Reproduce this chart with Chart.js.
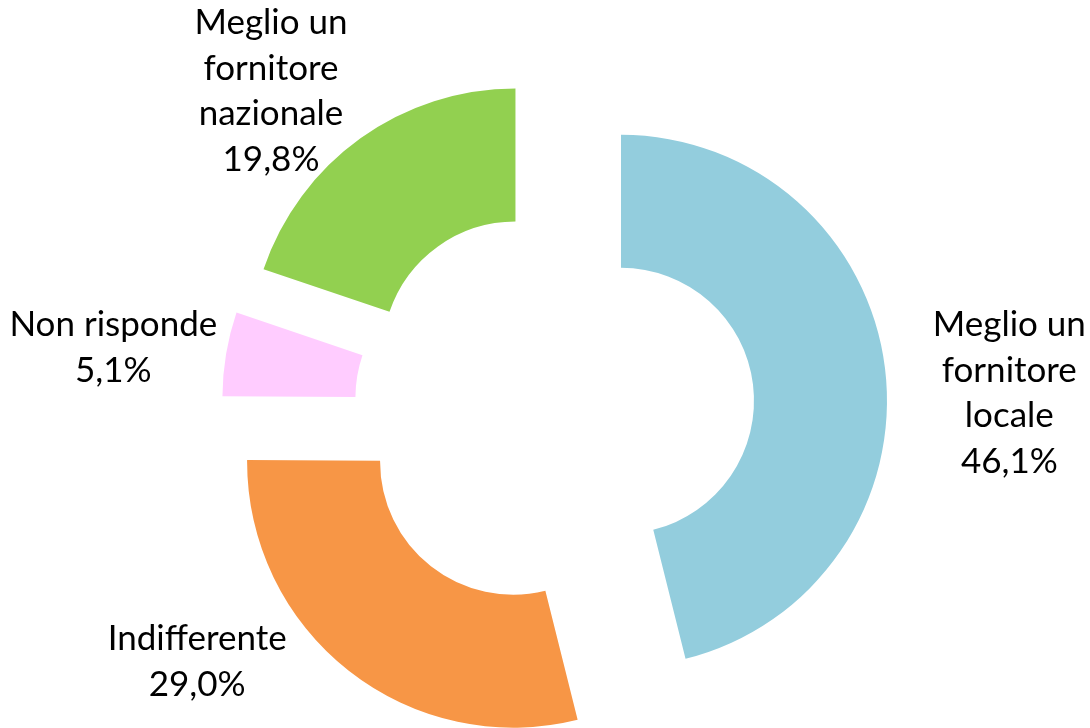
<!DOCTYPE html>
<html>
<head>
<meta charset="utf-8">
<script src="https://cdn.jsdelivr.net/npm/chart.js@4.4.0/dist/chart.umd.min.js"></script>
<style>
  html, body { margin: 0; padding: 0; background: #ffffff; }
  #wrap { width: 1090px; height: 728px; }
</style>
</head>
<body>
<div id="wrap"><canvas id="donut" width="1090" height="728"></canvas></div>
<script>
// dati del grafico
const categorie = [
    ['Meglio un', 'fornitore', 'locale'],
    ['Indifferente'],
    ['Non risponde'],
    ['Meglio un', 'fornitore', 'nazionale']
];
const percentuali = [46.1, 29.0, 5.1, 19.8];
const colori = ['#93cddd', '#f79646', '#ffccff', '#92d050'];

const esplodi = 67;

// disegna ogni spicchio spostato verso l'esterno
const esplosoPlugin = {
    id: 'esploso',
    beforeDatasetsDraw(chart) {
        const ctx = chart.ctx;
        const meta = chart.getDatasetMeta(0);
        meta.data.forEach(arc => {
            const mid = (arc.startAngle + arc.endAngle) / 2;
            ctx.save();
            ctx.translate(Math.cos(mid) * esplodi, Math.sin(mid) * esplodi);
            arc.draw(ctx);
            ctx.restore();
        });
        return false;
    }
};

// etichette esterne (spostate a mano come nell'originale)
const spostamenti = [[35, 36], [-96, -80], [-24, 9], [-37, 26]];
const etichettePlugin = {
    id: 'etichette',
    afterDraw(chart) {
        const ctx = chart.ctx;
        const meta = chart.getDatasetMeta(0);
        ctx.save();
        ctx.font = '35px Lato';
        ctx.fillStyle = '#000000';
        ctx.textAlign = 'center';
        ctx.textBaseline = 'middle';
        const riga = 45.5;
        meta.data.forEach((arc, i) => {
            const mid = (arc.startAngle + arc.endAngle) / 2;
            const r = esplodi + arc.outerRadius + 90;
            const x = arc.x + Math.cos(mid) * r + spostamenti[i][0];
            const y = arc.y + Math.sin(mid) * r + spostamenti[i][1];
            const righe = categorie[i].concat([percentuali[i].toFixed(1).replace('.', ',') + '%']);
            const y0 = y - (righe.length - 1) * riga / 2;
            righe.forEach((t, k) => ctx.fillText(t, x, y0 + k * riga));
        });
        ctx.restore();
    }
};

new Chart(document.getElementById('donut').getContext('2d'), {
    type: 'doughnut',
    data: {
        labels: categorie.map(c => c.join(' ')),
        datasets: [{
            data: percentuali,
            backgroundColor: colori,
            borderWidth: 0
        }]
    },
    options: {
        responsive: false,
        animation: false,
        radius: 266,
        cutout: '50%',
        layout: { padding: { left: 19, right: 0, top: 90, bottom: 0 } },
        plugins: { legend: { display: false }, tooltip: { enabled: false } }
    },
    plugins: [esplosoPlugin, etichettePlugin]
});
</script>
</body>
</html>
